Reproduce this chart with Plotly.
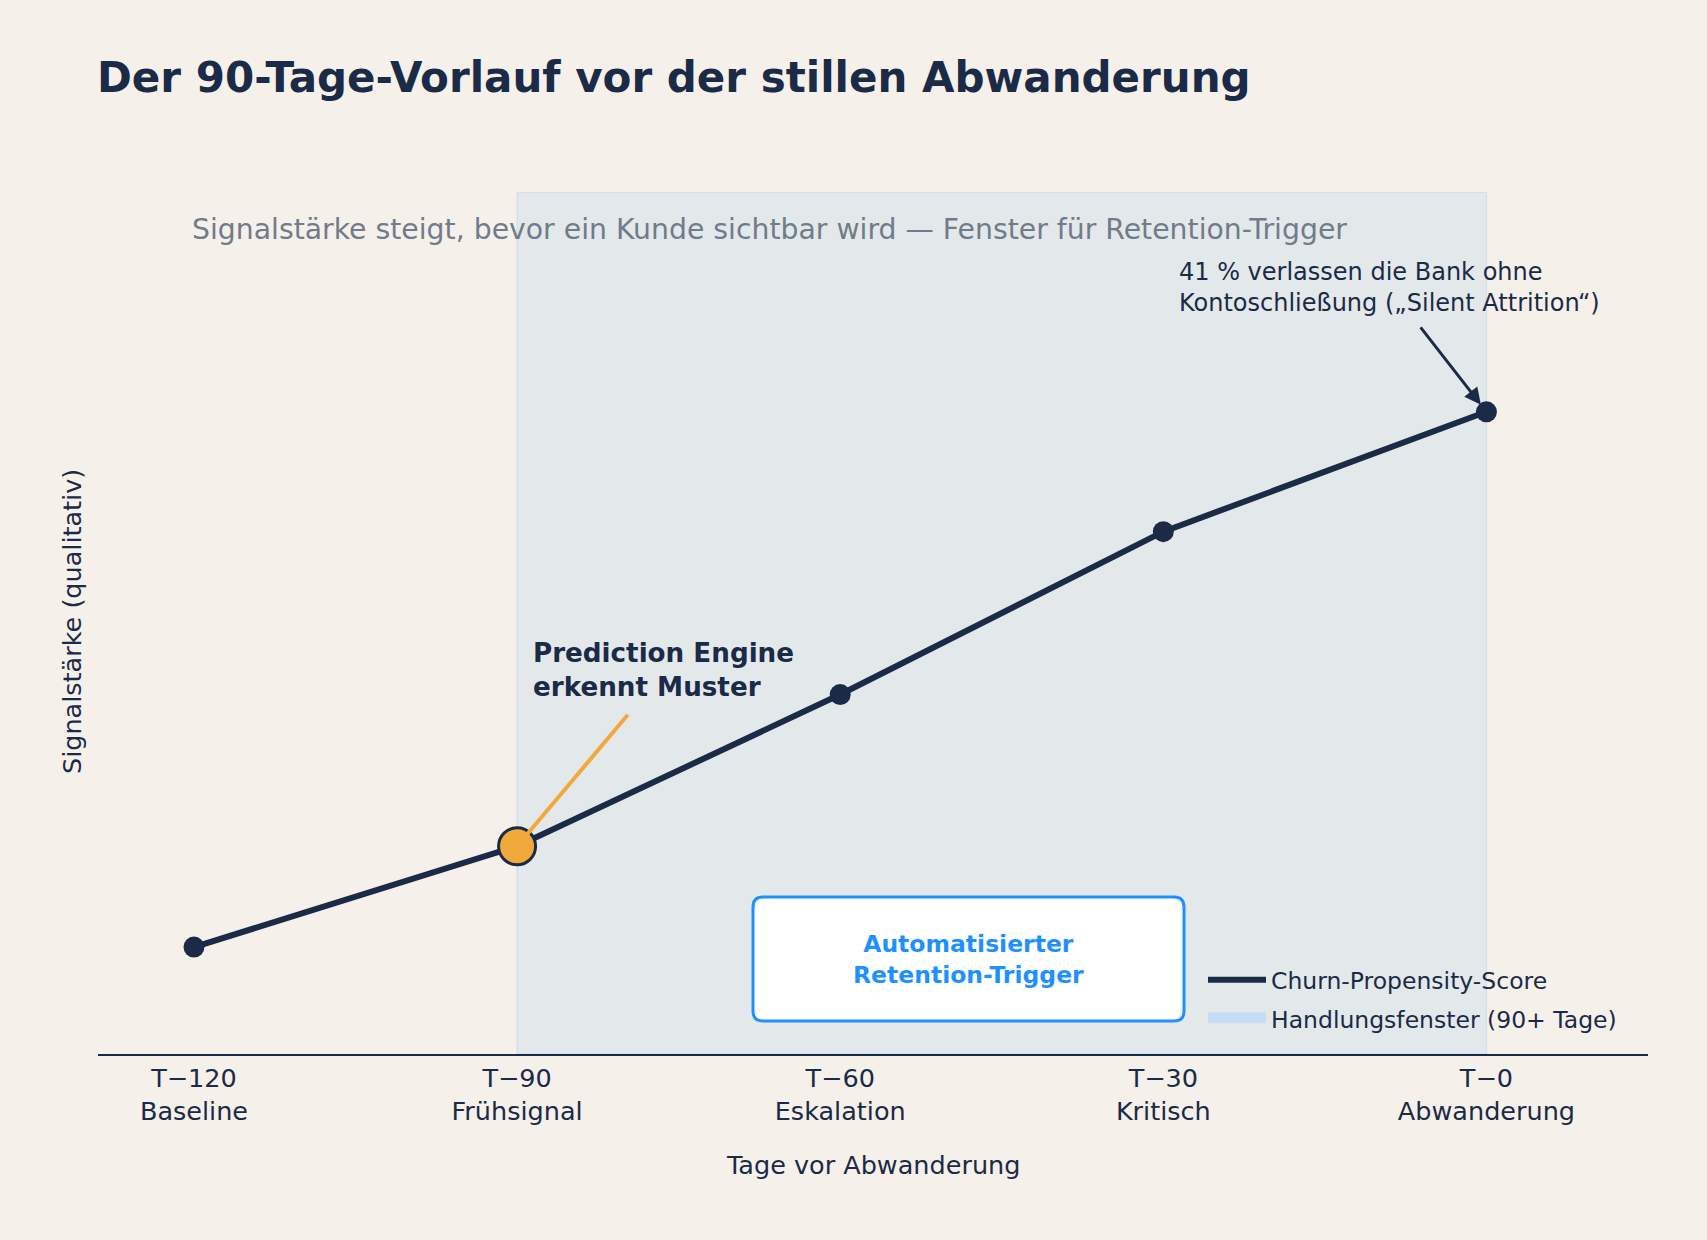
import plotly.graph_objects as go

# ---------------- data ----------------
stages = ["T−120", "T−90", "T−60", "T−30", "T−0"]
phases = ["Baseline", "Frühsignal", "Eskalation", "Kritisch", "Abwanderung"]
score = [12.4, 24.1, 41.7, 60.6, 74.5]
window_start = "T−90"
window_end = "T−0"
early_signal = "T−90"
y_max = 100

# ---------------- style ----------------
NAVY = "#1b2a47"
BLUE = "#1e90ff"
ORANGE = "#f2a93b"
GRAY = "#717b8a"
BG = "#f5f1ea"
FONT = "DejaVu Sans"

W, H = 1707, 1240
L, R, T, B = 98, 59, 192, 186
PW, PH = W - L - R, H - T - B


def pxx(x):
    return (x - L) / PW


def pxy(y):
    return (H - B - y) / PH


xi = list(range(len(stages)))
ticktext = [f"{s}<br>{p}" for s, p in zip(stages, phases)]
i0 = stages.index(window_start)
i1 = stages.index(window_end)
ie = stages.index(early_signal)

fig = go.Figure()

# action window (span)
fig.add_trace(go.Scatter(
    x=[i0, i1, i1, i0, i0], y=[0, 0, y_max, y_max, 0],
    mode="lines", fill="toself",
    fillcolor="rgba(30,144,255,0.08)",
    line=dict(color="rgba(30,144,255,0.12)", width=1.5),
    showlegend=False, hoverinfo="skip",
))

# score line
fig.add_trace(go.Scatter(
    x=xi, y=score, mode="lines",
    line=dict(color=NAVY, width=6),
    name="Churn-Propensity-Score",
    legendrank=1, legendgroup="a",
))
fig.add_trace(go.Scatter(
    x=xi, y=score, mode="markers",
    marker=dict(color=NAVY, size=21),
    showlegend=False, hoverinfo="skip",
))

# legend entry for the action window
fig.add_trace(go.Scatter(
    x=[None], y=[None], mode="lines", fill="toself",
    fillcolor="#cde0f3", line=dict(color="#c4dcf4", width=10),
    name="Handlungsfenster (90+ Tage)",
    legendrank=2, legendgroup="b", hoverinfo="skip",
))

# early signal marker
fig.add_trace(go.Scatter(
    x=[xi[ie]], y=[score[ie]], mode="markers",
    marker=dict(color=ORANGE, size=37, line=dict(color=NAVY, width=3)),
    showlegend=False, hoverinfo="skip",
))

annotations = []
# title
annotations.append(dict(
    text="<b>Der 90-Tage-Vorlauf vor der stillen Abwanderung</b>",
    xref="paper", yref="paper", x=pxx(95), y=pxy(77),
    xanchor="left", yanchor="middle", showarrow=False,
    font=dict(family=FONT, size=42, color=NAVY),
))
# subtitle
annotations.append(dict(
    text="Signalstärke steigt, bevor ein Kunde sichtbar wird — Fenster für Retention-Trigger",
    xref="paper", yref="paper", x=pxx(190), y=pxy(229),
    xanchor="left", yanchor="middle", showarrow=False,
    font=dict(family=FONT, size=28.3, color=GRAY),
))
# 41 % annotation text
annotations.append(dict(
    text="41 % verlassen die Bank ohne<br>Kontoschließung („Silent Attrition“)",
    xref="paper", yref="paper", x=pxx(1177), y=pxy(287),
    xanchor="left", yanchor="middle", align="left", showarrow=False,
    font=dict(family=FONT, size=24, color=NAVY),
))
# 41 % arrow
annotations.append(dict(
    text="", x=xi[-1], y=score[-1], xref="x", yref="y",
    ax=-67, ay=-86, showarrow=True, arrowhead=2, arrowsize=1.1,
    arrowwidth=3, arrowcolor=NAVY, standoff=9,
))
# prediction engine text
annotations.append(dict(
    text="<b>Prediction Engine<br>erkennt Muster</b>",
    xref="paper", yref="paper", x=pxx(531), y=pxy(670),
    xanchor="left", yanchor="middle", align="left", showarrow=False,
    font=dict(family=FONT, size=26.2, color=NAVY),
))
# orange connector
annotations.append(dict(
    text="", x=xi[ie], y=score[ie], xref="x", yref="y",
    ax=112, ay=-133, showarrow=True, arrowhead=0,
    arrowwidth=4, arrowcolor=ORANGE, standoff=15,
))
# trigger box text
annotations.append(dict(
    text="<b>Automatisierter<br>Retention-Trigger</b>",
    xref="paper", yref="paper", x=pxx(969), y=pxy(959),
    xanchor="center", yanchor="middle", align="center", showarrow=False,
    font=dict(family=FONT, size=23.5, color=BLUE),
))
# axis titles
annotations.append(dict(
    text="Tage vor Abwanderung",
    xref="paper", yref="paper", x=pxx(873), y=pxy(1165),
    xanchor="center", yanchor="middle", showarrow=False,
    font=dict(family=FONT, size=25.5, color=NAVY),
))
annotations.append(dict(
    text="Signalstärke (qualitativ)",
    xref="paper", yref="paper", x=pxx(72), y=pxy(622),
    xanchor="center", yanchor="middle", showarrow=False, textangle=-90,
    font=dict(family=FONT, size=25.5, color=NAVY),
))

# rounded trigger box path
bx0, bx1, by0, by1 = pxx(753), pxx(1184), pxy(1021), pxy(897)
rx, ry = 10 / PW, 10 / PH
path = (
    f"M {bx0 + rx},{by0} L {bx1 - rx},{by0} Q {bx1},{by0} {bx1},{by0 + ry} "
    f"L {bx1},{by1 - ry} Q {bx1},{by1} {bx1 - rx},{by1} "
    f"L {bx0 + rx},{by1} Q {bx0},{by1} {bx0},{by1 - ry} "
    f"L {bx0},{by0 + ry} Q {bx0},{by0} {bx0 + rx},{by0} Z"
)
shapes = [dict(type="path", path=path, xref="paper", yref="paper",
               fillcolor="white", line=dict(color=BLUE, width=3), layer="above")]

fig.update_layout(
    width=W, height=H,
    margin=dict(l=L, r=R, t=T, b=B, autoexpand=False),
    paper_bgcolor=BG, plot_bgcolor=BG,
    font=dict(family=FONT, color=NAVY),
    showlegend=True,
    legend=dict(
        x=pxx(1203), y=pxy(1042), xanchor="left", yanchor="bottom",
        bgcolor="rgba(0,0,0,0)", borderwidth=0,
        font=dict(family=FONT, size=23.5, color=NAVY),
        traceorder="grouped", tracegroupgap=6, itemwidth=58,
    ),
    annotations=annotations,
    shapes=shapes,
    hovermode=False,
)

fig.update_xaxes(
    range=[-0.297, 4.5], tickvals=xi, ticktext=ticktext,
    showgrid=False, zeroline=False, showline=True, linecolor=NAVY, linewidth=2,
    ticks="", tickfont=dict(family=FONT, size=25.5, color=NAVY),
    fixedrange=True,
)
fig.update_yaxes(
    range=[0, y_max], showgrid=False, zeroline=False, showline=False,
    showticklabels=False, ticks="", fixedrange=True,
)

fig.write_html(
    "out.html",
    config={"displayModeBar": False},
    post_script="document.body.style.margin='0px';document.body.style.overflow='hidden';",
)
